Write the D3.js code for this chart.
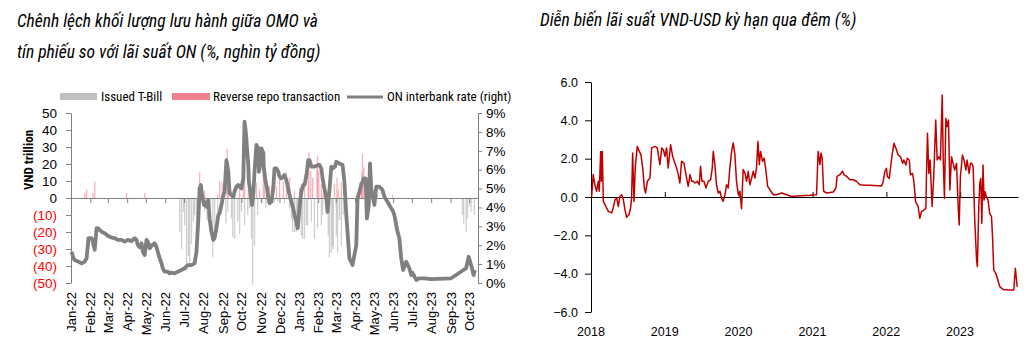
<!DOCTYPE html>
<html><head><meta charset="utf-8">
<script src="https://cdn.jsdelivr.net/npm/d3@7"></script>
<style>
body{margin:0;background:#fff;}
svg{display:block;}
.nar{font-family:'Liberation Sans Narrow','Arial Narrow','Roboto Condensed',sans-serif;}
.reg{font-family:'Liberation Sans',Arial,sans-serif;}
</style></head><body>
<svg id="c" width="1027" height="358"></svg>
<script>
// ---------- Left chart data ----------
const onDates = ["2022-01-02","2022-01-05","2022-01-07","2022-01-13","2022-01-18","2022-01-23","2022-01-26","2022-01-29","2022-02-03","2022-02-05","2022-02-08","2022-02-11","2022-02-13","2022-02-19","2022-02-24","2022-03-01","2022-03-07","2022-03-12","2022-03-17","2022-03-23","2022-03-28","2022-04-02","2022-04-08","2022-04-13","2022-04-16","2022-04-18","2022-04-21","2022-04-24","2022-04-26","2022-04-29","2022-05-02","2022-05-04","2022-05-07","2022-05-11","2022-05-15","2022-05-18","2022-05-20","2022-05-23","2022-05-26","2022-05-28","2022-05-31","2022-06-05","2022-06-08","2022-06-11","2022-06-16","2022-06-21","2022-06-27","2022-07-02","2022-07-07","2022-07-13","2022-07-18","2022-07-21","2022-07-24","2022-07-26","2022-07-28","2022-07-30","2022-08-02","2022-08-03","2022-08-06","2022-08-09","2022-08-11","2022-08-14","2022-08-17","2022-08-19","2022-08-22","2022-08-25","2022-08-27","2022-08-30","2022-09-02","2022-09-04","2022-09-07","2022-09-10","2022-09-12","2022-09-15","2022-09-18","2022-09-20","2022-09-23","2022-09-26","2022-09-28","2022-10-01","2022-10-04","2022-10-06","2022-10-08","2022-10-10","2022-10-12","2022-10-13","2022-10-16","2022-10-18","2022-10-20","2022-10-22","2022-10-25","2022-10-28","2022-10-29","2022-10-31","2022-11-02","2022-11-05","2022-11-06","2022-11-08","2022-11-11","2022-11-13","2022-11-15","2022-11-18","2022-11-21","2022-11-23","2022-11-26","2022-11-29","2022-12-01","2022-12-04","2022-12-07","2022-12-09","2022-12-12","2022-12-15","2022-12-17","2022-12-20","2022-12-23","2022-12-25","2022-12-28","2022-12-30","2023-01-01","2023-01-03","2023-01-05","2023-01-08","2023-01-10","2023-01-13","2023-01-16","2023-01-18","2023-01-21","2023-01-26","2023-02-01","2023-02-03","2023-02-06","2023-02-08","2023-02-11","2023-02-14","2023-02-16","2023-02-19","2023-02-22","2023-02-24","2023-02-28","2023-03-02","2023-03-07","2023-03-12","2023-03-15","2023-03-18","2023-03-23","2023-03-28","2023-04-03","2023-04-05","2023-04-11","2023-04-15","2023-04-18","2023-04-20","2023-04-23","2023-04-25","2023-04-27","2023-05-02","2023-05-05","2023-05-10","2023-05-15","2023-05-18","2023-05-23","2023-05-29","2023-05-31","2023-06-03","2023-06-08","2023-06-11","2023-06-14","2023-06-17","2023-06-22","2023-06-27","2023-06-30","2023-07-02","2023-07-08","2023-07-13","2023-07-21","2023-08-01","2023-09-02","2023-09-26","2023-09-30","2023-10-04","2023-10-08","2023-10-10","2023-10-12"];
const onRates = [1.66,1.31,1.22,1.13,1.04,1.13,1.31,2.37,2.37,2.19,1.75,2.9,2.9,2.72,2.63,2.5,2.4,2.37,2.28,2.28,2.19,2.28,2.22,2.37,2.28,2.01,1.9,2.1,1.66,1.48,2.28,2.19,1.84,2.01,2.1,1.9,1.66,1.31,1.04,0.78,0.6,0.6,0.51,0.55,0.51,0.6,0.69,0.78,0.95,0.95,1.04,1.66,3.4,5.01,5.19,4.66,4.13,4.3,4.04,4.39,3.42,2.72,2.28,2.37,2.9,3.6,3.7,4.13,4.66,4.8,6.51,5.89,4.75,4.66,4.57,4.83,5.1,5.19,5.1,5.01,5.54,8.54,8.01,7.13,6.25,5.36,4.66,4.13,4.66,5.89,7.31,7.13,5.89,6.25,7.13,6.9,6.07,5.54,5.01,4.48,4.22,4.3,5.01,6.07,6.07,5.89,5.63,5.54,5.63,5.72,5.45,5.01,4.66,4.3,3.95,3.6,3.25,2.9,3.6,4.3,4.83,5.19,5.19,5.63,6.51,6.51,6.16,6.16,6.25,6.25,6.07,5.54,5.0,4.48,3.77,4.9,6.16,6.07,6.16,6.42,6.33,6.25,5.36,3.6,1.31,0.95,2.01,4.48,5.19,5.54,5.54,3.42,4.1,6.33,5.0,4.13,5.1,5.1,4.92,4.57,4.3,3.95,3.86,3.6,2.72,2.37,1.31,0.69,1.13,0.78,0.42,0.55,0.16,0.25,0.25,0.2,0.25,0.78,1.39,0.95,0.42,0.69];
const tbillDates = ["2022-06-24","2022-06-27","2022-06-30","2022-07-02","2022-07-05","2022-07-08","2022-07-10","2022-07-13","2022-07-16","2022-07-18","2022-07-21","2022-07-23","2022-08-03","2022-08-07","2022-08-11","2022-08-16","2022-08-19","2022-08-24","2022-08-31","2022-09-06","2022-09-09","2022-09-15","2022-09-17","2022-09-20","2022-09-25","2022-09-28","2022-10-01","2022-10-06","2022-10-11","2022-10-14","2022-10-17","2022-10-19","2022-10-22","2022-10-27","2022-11-03","2022-11-09","2022-11-15","2022-11-23","2022-11-28","2022-12-09","2022-12-17","2022-12-20","2022-12-22","2022-12-25","2022-12-28","2022-12-30","2023-01-02","2023-01-05","2023-01-07","2023-01-10","2023-01-13","2023-01-15","2023-01-21","2023-01-26","2023-01-31","2023-02-06","2023-02-08","2023-02-14","2023-02-17","2023-02-19","2023-02-22","2023-02-24","2023-02-25","2023-03-02","2023-03-04","2023-03-07","2023-03-10","2023-03-13","2023-03-16","2023-09-20","2023-09-22","2023-09-26","2023-09-28","2023-10-01","2023-10-04","2023-10-09"];
const tbillValues = [-20,-30,-8,-16,-43,-34,-39,-27,-14,-10,-18,-4,-8,-13,-20,-35,-21,-9,-6,-15,-8,-12,-23,-24,-14,-21,-8,-16,-10,-6,-24,-51,-28,-10,-3,-6,-3,-3,-2,-3,-6,-12,-20,-20,-20,-14,-18,-22,-24,-24,-16,-16,-14,-24,-18,-16,-10,-10,-22,-35,-32,-28,-30,-22,-32,-13,-28,-10,-6,-10,-15,-20,-12,-5,-8,-10];
const repoDates = ["2022-01-23","2022-01-26","2022-02-05","2022-02-08","2022-03-31","2022-04-29","2022-07-26","2022-07-29","2022-08-03","2022-08-24","2022-08-27","2022-08-31","2022-09-04","2022-09-08","2022-09-10","2022-09-15","2022-09-20","2022-09-28","2022-10-04","2022-10-06","2022-10-12","2022-10-25","2022-10-30","2022-11-05","2022-11-07","2022-11-11","2022-11-15","2022-11-21","2022-11-26","2022-12-01","2022-12-07","2022-12-12","2022-12-17","2022-12-25","2023-01-02","2023-01-10","2023-01-16","2023-01-17","2023-01-20","2023-01-23","2023-01-30","2023-01-31","2023-02-02","2023-02-06","2023-02-09","2023-02-27","2023-03-03","2023-03-05","2023-03-10","2023-03-15","2023-04-08","2023-04-11","2023-04-12","2023-04-13","2023-04-15","2023-04-18","2023-05-07","2023-05-31"];
const repoValues = [3,5,3,9.6,3,3,15,8,4,2,10,9,7,29,15,4,5,5,9,20,5,9,5,28,15,8,7,8,7,12,10,15,12,4,6,14,10,27,16,12,20,25,16,8,3,8,12,5,9,5,9,6,15,26,18,10,2,2];
const leftTicks = [50,40,30,20,10,0,-10,-20,-30,-40,-50];
const rightTicks = [0,1,2,3,4,5,6,7,8,9];

// ---------- Right chart data ----------
const spreadDates = ["2018-01-04","2018-01-12","2018-01-20","2018-01-29","2018-02-06","2018-02-11","2018-02-18","2018-02-21","2018-02-26","2018-03-03","2018-03-11","2018-03-28","2018-04-13","2018-04-21","2018-04-30","2018-05-08","2018-05-16","2018-05-24","2018-06-02","2018-06-10","2018-06-18","2018-06-26","2018-07-08","2018-07-16","2018-07-21","2018-07-26","2018-08-02","2018-08-08","2018-08-18","2018-08-28","2018-09-05","2018-09-14","2018-09-22","2018-09-28","2018-10-07","2018-10-20","2018-10-28","2018-11-14","2018-11-25","2018-12-08","2018-12-17","2018-12-25","2019-01-02","2019-01-10","2019-01-18","2019-01-30","2019-02-09","2019-02-20","2019-03-01","2019-03-09","2019-03-17","2019-03-25","2019-04-06","2019-04-16","2019-04-27","2019-05-06","2019-05-14","2019-05-22","2019-05-30","2019-06-11","2019-06-21","2019-06-27","2019-07-04","2019-07-14","2019-07-24","2019-08-04","2019-08-16","2019-08-24","2019-08-29","2019-09-06","2019-09-14","2019-09-23","2019-10-01","2019-10-09","2019-10-17","2019-10-26","2019-11-03","2019-11-11","2019-11-19","2019-11-28","2019-12-06","2019-12-14","2019-12-22","2019-12-31","2020-01-08","2020-01-16","2020-01-24","2020-02-02","2020-02-10","2020-02-18","2020-02-26","2020-03-06","2020-03-14","2020-03-22","2020-03-30","2020-04-06","2020-04-13","2020-04-19","2020-04-29","2020-05-07","2020-05-16","2020-05-24","2020-06-04","2020-06-21","2020-07-07","2020-08-01","2020-08-26","2020-09-20","2020-10-31","2020-12-19","2021-01-21","2021-01-29","2021-02-07","2021-02-12","2021-02-18","2021-02-25","2021-03-12","2021-04-14","2021-04-27","2021-05-03","2021-05-17","2021-05-30","2021-06-05","2021-06-19","2021-07-05","2021-07-21","2021-08-07","2021-08-23","2021-09-17","2021-10-12","2021-12-09","2021-12-17","2021-12-25","2022-01-02","2022-01-07","2022-01-16","2022-01-22","2022-01-30","2022-02-08","2022-02-18","2022-03-01","2022-03-13","2022-03-23","2022-03-29","2022-04-08","2022-04-15","2022-04-25","2022-05-01","2022-05-11","2022-05-18","2022-05-26","2022-05-31","2022-06-08","2022-06-16","2022-06-24","2022-07-06","2022-07-16","2022-07-19","2022-07-24","2022-07-31","2022-08-06","2022-08-16","2022-08-24","2022-09-03","2022-09-10","2022-09-18","2022-09-26","2022-10-05","2022-10-10","2022-10-16","2022-10-23","2022-10-29","2022-11-05","2022-11-12","2022-11-20","2022-11-28","2022-12-06","2022-12-15","2022-12-23","2022-12-28","2023-01-03","2023-01-13","2023-01-21","2023-01-30","2023-02-05","2023-02-15","2023-02-22","2023-02-28","2023-03-07","2023-03-15","2023-03-24","2023-03-28","2023-04-04","2023-04-09","2023-04-14","2023-04-19","2023-04-25","2023-04-30","2023-05-05","2023-05-12","2023-05-20","2023-05-28","2023-06-06","2023-06-11","2023-06-17","2023-06-27","2023-07-05","2023-07-17","2023-08-02","2023-08-27","2023-09-24","2023-10-02","2023-10-11"];
const spreadValues = [0,1.17,0.64,0.3,0.82,0.3,2.38,0.82,2.38,-0.23,-0.4,-0.75,-0.83,-0.57,-0.14,-0.05,-0.49,0.03,0.12,-0.14,-0.66,-1.06,-0.92,-0.57,-0.05,2.3,-0.23,1.51,2.64,2.38,2.21,1.51,0.47,0.21,0.82,0.99,2.56,2.64,2.56,1.69,2.56,2.47,2.12,2.56,1.51,2.73,2.12,1.77,1.51,1.17,0.73,1.86,1.77,1.17,0.56,1.17,0.82,0.82,0.73,0.82,0.64,1.6,0.82,0.82,0.47,0.82,0.9,1.51,2.38,1.69,0.64,0.21,0.3,-0.05,-0.23,0.12,0.64,0.47,1.51,2.38,2.82,2.21,0.82,0.12,0.3,-0.61,1.43,1.25,0.82,1.34,0.64,0.99,1.34,0.99,1.51,2.9,1.69,2.38,1.86,2.03,1.34,0.56,0.38,0.12,0.12,0.21,0.12,0.03,0.07,0.09,0.12,2.38,1.69,2.3,2.03,0.3,0.21,0.26,0.47,1.08,1.17,1.34,1.17,1.08,0.9,0.9,0.82,0.64,0.61,0.61,0.57,0.8,1.32,1.5,1.06,0.97,1.5,2.19,2.8,2.54,2.19,2.1,1.76,1.93,1.67,2.02,1.93,1.15,1.23,0.8,-0.24,-0.33,-0.5,-1.11,-0.77,-0.68,-0.59,1.06,3.32,1.23,1.93,-0.5,1.06,4.02,1.93,2.1,1.93,5.32,1.93,-0.07,4.1,3.67,4.02,0.37,2.1,1.76,1.41,1.76,-0.5,-1.46,1.06,2.19,1.93,1.41,1.93,1.23,1.76,1.76,1.58,-1.2,-3.29,-3.63,-0.5,0.71,0.97,-1.37,1.67,-0.16,0.28,0.02,-0.16,-0.85,-1.03,-2.07,-3.81,-3.98,-4.24,-4.68,-4.82,-4.85,-4.85,-3.72,-4.68];
const spreadTicks = [6,4,2,0,-2,-4,-6];
const yearLabels = ["2018","2019","2020","2021","2022","2023"];

const parse = d3.timeParse("%Y-%m-%d");
const svg = d3.select("#c");
const GRAY = "#808080";

// ===== LEFT CHART =====
svg.append("text").attr("class","nar").attr("x",17).attr("y",27).attr("font-size",17.5).attr("font-style","italic")
  .text("Chênh lệch khối lượng lưu hành giữa OMO và");
svg.append("text").attr("class","nar").attr("x",17).attr("y",58).attr("font-size",17.5).attr("font-style","italic")
  .text("tín phiếu so với lãi suất ON (%, nghìn tỷ đồng)");

// legend
const lg = svg.append("g").attr("class","nar").attr("font-size",13);
lg.append("rect").attr("x",60).attr("y",93).attr("width",37).attr("height",7).attr("fill","#bfbfbf");
lg.append("text").attr("x",101).attr("y",101).text("Issued T-Bill");
lg.append("rect").attr("x",172).attr("y",93).attr("width",38).attr("height",7).attr("fill","#f08090");
lg.append("text").attr("x",213).attr("y",101).text("Reverse repo transaction");
lg.append("line").attr("x1",347).attr("x2",383).attr("y1",97).attr("y2",97).attr("stroke",GRAY).attr("stroke-width",3);
lg.append("text").attr("x",387).attr("y",101).text("ON interbank rate (right)");

const x = d3.scaleTime().domain([new Date(2022,0,1), new Date(2023,9,15)]).range([71,478]);
const yL = d3.scaleLinear().domain([-50,50]).range([283,113]);
const yR = d3.scaleLinear().domain([0,9]).range([283,113]);

// bars
svg.append("g").selectAll("rect").data(tbillDates.map((d,i)=>({d:parse(d),v:tbillValues[i]}))).join("rect")
  .attr("x",p=>x(p.d)-0.6).attr("width",1.3)
  .attr("y",yL(0)).attr("height",p=>yL(p.v)-yL(0))
  .attr("fill","#bfbfbf").attr("opacity",0.75);
svg.append("g").selectAll("rect").data(repoDates.map((d,i)=>({d:parse(d),v:repoValues[i]}))).join("rect")
  .attr("x",p=>x(p.d)-0.6).attr("width",1.3)
  .attr("y",p=>yL(p.v)).attr("height",p=>yL(0)-yL(p.v))
  .attr("fill","#f08090").attr("opacity",0.6);

// zero line with month ticks
const zAx = svg.append("g").attr("transform",`translate(0,${yL(0)})`)
  .call(d3.axisBottom(x).ticks(d3.timeMonth.every(1)).tickSize(5).tickSizeOuter(0).tickFormat(""));
zAx.selectAll("path,line").attr("stroke",GRAY);

// month labels
const mAx = svg.append("g").attr("class","nar").attr("transform",`translate(0,283)`)
  .call(d3.axisBottom(x).ticks(d3.timeMonth.every(1)).tickSize(0).tickFormat(d3.timeFormat("%b-%y")));
mAx.select(".domain").remove();
mAx.selectAll("text").attr("font-family","'Liberation Sans Narrow','Arial Narrow',sans-serif").attr("font-size",13).attr("fill","#000")
  .attr("text-anchor","end").attr("transform","rotate(-90)").attr("x",-9).attr("y",0).attr("dy","0.35em").attr("dx",0);

// left axis
const la = svg.append("g").attr("transform","translate(71,0)")
  .call(d3.axisLeft(yL).tickValues(leftTicks).tickSize(5).tickSizeOuter(0).tickPadding(9)
    .tickFormat(d=> d<0 ? `(${-d})` : d));
la.selectAll("path,line").attr("stroke",GRAY);
la.selectAll("text").attr("font-family","'Liberation Sans Narrow','Arial Narrow',sans-serif").attr("font-size",13.5)
  .attr("fill",d=> d<0 ? "#ff0000" : "#000");

// right axis
const ra = svg.append("g").attr("transform","translate(478,0)")
  .call(d3.axisRight(yR).tickValues(rightTicks).tickSize(4).tickSizeOuter(0).tickPadding(4).tickFormat(d=>d+"%"));
ra.selectAll("path,line").attr("stroke",GRAY);
ra.selectAll("text").attr("font-family","'Liberation Sans Narrow','Arial Narrow',sans-serif").attr("font-size",13.5).attr("fill","#000");

// y label
svg.append("text").attr("class","nar").attr("font-size",13).attr("font-weight","bold")
  .attr("transform","translate(33,160) rotate(-90)").attr("text-anchor","middle").text("VND trillion");

// ON line
svg.append("path").datum(onDates.map((d,i)=>({d:parse(d),v:onRates[i]})))
  .attr("fill","none").attr("stroke",GRAY).attr("stroke-width",3.8).attr("stroke-linejoin","round")
  .attr("d",d3.line().x(p=>x(p.d)).y(p=>yR(p.v)));

// ===== RIGHT CHART =====
svg.append("text").attr("class","nar").attr("x",540).attr("y",26).attr("font-size",17.5).attr("font-style","italic")
  .text("Diễn biến lãi suất VND-USD kỳ hạn qua đêm (%)");

const xR = d3.scaleTime().domain([new Date(2018,0,1), new Date(2023,0,1)]).range([591,960]);
const yS = d3.scaleLinear().domain([-6,6]).range([312,82]);

const sa = svg.append("g").attr("transform","translate(591,0)")
  .call(d3.axisLeft(yS).tickValues(spreadTicks).tickSize(6).tickSizeOuter(0).tickPadding(7).tickFormat(d3.format(".1f")));
sa.selectAll("path,line").attr("stroke","#000");
sa.selectAll("text").attr("class","reg").attr("font-size",12.5).attr("fill","#000");

const zr = svg.append("g").attr("transform",`translate(0,${yS(0)})`)
  .call(d3.axisBottom(xR.copy().domain([new Date(2018,0,1), new Date(2023,9,14)]).range([591,1018]))
    .ticks(d3.timeYear.every(1)).tickSize(-5).tickSizeOuter(0).tickFormat(""));
zr.selectAll("path,line").attr("stroke","#000");

svg.append("g").attr("class","reg").attr("font-size",12.5).selectAll("text").data(yearLabels).join("text")
  .attr("x",d=>xR(new Date(+d,0,1))).attr("y",336).attr("text-anchor","middle").attr("fill","#000").text(d=>d);

svg.append("path").datum(spreadDates.map((d,i)=>({d:parse(d),v:spreadValues[i]})))
  .attr("fill","none").attr("stroke","#c00000").attr("stroke-width",1.5).attr("stroke-linejoin","round")
  .attr("d",d3.line().x(p=>xR(p.d)).y(p=>yS(p.v)));
</script>
</body></html>
